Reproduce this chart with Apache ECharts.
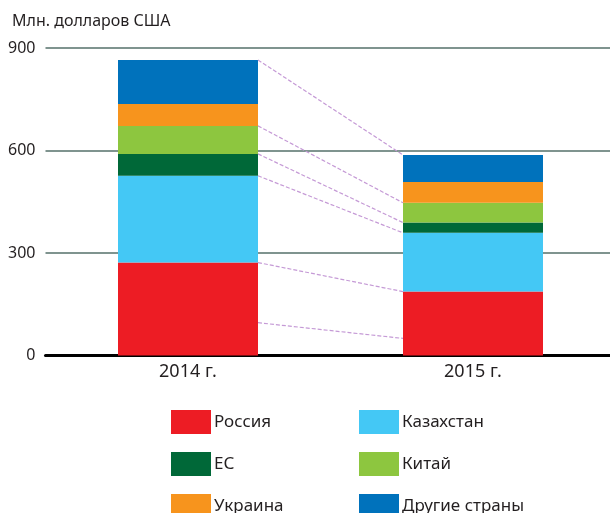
<!DOCTYPE html>
<html>
<head>
<meta charset="utf-8">
<script src="https://cdn.jsdelivr.net/npm/echarts@6/dist/echarts.min.js"></script>
<style>
  html, body { margin: 0; padding: 0; background: #fff; }
  #box { width: 610px; height: 513px; }
</style>
</head>
<body>
<div id="box"></div>
<script>
// данные
var years = ['2014 г.', '2015 г.'];
var russia = [272, 187];
var kazakhstan = [254, 172];
var eu = [64, 30];
var china = [82, 58];
var ukraine = [64, 61];
var other = [129, 79];
var yTicks = [0, 300, 600, 900];
// отдельная пунктирная линия внутри красного блока
var extraLink = [96, 50];

var names = ['Россия', 'Казахстан', 'ЕС', 'Китай', 'Украина', 'Другие страны'];
var colors = ['#ed1c24', '#44c8f5', '#006838', '#8dc63f', '#f7941d', '#0072bc'];
var values = [russia, kazakhstan, eu, china, ukraine, other];

var barW = 140;
var font = 'Noto Sans';
var txt = '#231f20';

// верхние границы сегментов (накопленные суммы)
function stackTop(k, i) {
    var s = 0;
    for (var j = 0; j <= k; j++) s += values[j][i];
    return s;
}
// линии: вся сумма, Китай, ЕС, Казахстан, Россия
var linkLevels = [5, 3, 2, 1, 0];
var links = linkLevels.map(function (k) {
    return [0, stackTop(k, 0), stackTop(k, 1)];
});
links.push([0, extraLink[0], extraLink[1]]);

var series = names.map(function (n, k) {
    return {
        name: n,
        type: 'bar',
        stack: 'all',
        barWidth: barW,
        itemStyle: { color: colors[k] },
        data: values[k],
        silent: true
    };
});

series.push({
    type: 'custom',
    silent: true,
    z: 5,
    encode: { x: 0, y: 1 },
    data: links,
    renderItem: function (params, api) {
        var p0 = api.coord([0, api.value(1)]);
        var p1 = api.coord([1, api.value(2)]);
        return {
            type: 'line',
            shape: { x1: p0[0] + barW / 2, y1: p0[1], x2: p1[0] - barW / 2, y2: p1[1] },
            style: { stroke: '#c59ad6', lineWidth: 1.2, lineDash: [4, 2] }
        };
    }
});

var legendText = { fontFamily: font, fontSize: 17, color: txt, padding: [0, 0, 0, -2] };

var chart = echarts.init(document.getElementById('box'));
var option = {
    animation: false,
    title: {
        text: 'Млн. долларов США',
        left: 12, top: 13, padding: 0,
        textStyle: { fontFamily: font, fontSize: 16, fontWeight: 'normal', color: txt }
    },
    grid: { left: 45.5, top: 48, width: 570, height: 307.5, outerBoundsMode: 'none' },
    legend: [{
        orient: 'vertical', left: 171, top: 410, height: 140, padding: 0,
        itemWidth: 40, itemHeight: 24, itemGap: 18,
        icon: 'rect', selectedMode: false,
        textStyle: legendText,
        data: ['Россия', 'ЕС', 'Украина']
    }, {
        orient: 'vertical', left: 359, top: 410, height: 140, padding: 0,
        itemWidth: 40, itemHeight: 24, itemGap: 18,
        icon: 'rect', selectedMode: false,
        textStyle: legendText,
        data: ['Казахстан', 'Китай', 'Другие страны']
    }],
    xAxis: {
        type: 'category',
        data: years,
        axisTick: { show: false },
        axisLine: { lineStyle: { color: '#000', width: 3 } },
        axisLabel: { fontFamily: font, fontSize: 18, color: txt, margin: 7 }
    },
    yAxis: {
        type: 'value',
        min: yTicks[0], max: yTicks[yTicks.length - 1], interval: 300,
        axisLine: { show: false },
        axisTick: { show: false },
        axisLabel: { fontFamily: font, fontSize: 16, color: txt, margin: 10 },
        splitLine: { lineStyle: { color: '#7f948f', width: 2 } }
    },
    series: series
};
chart.setOption(option);
</script>
</body>
</html>
